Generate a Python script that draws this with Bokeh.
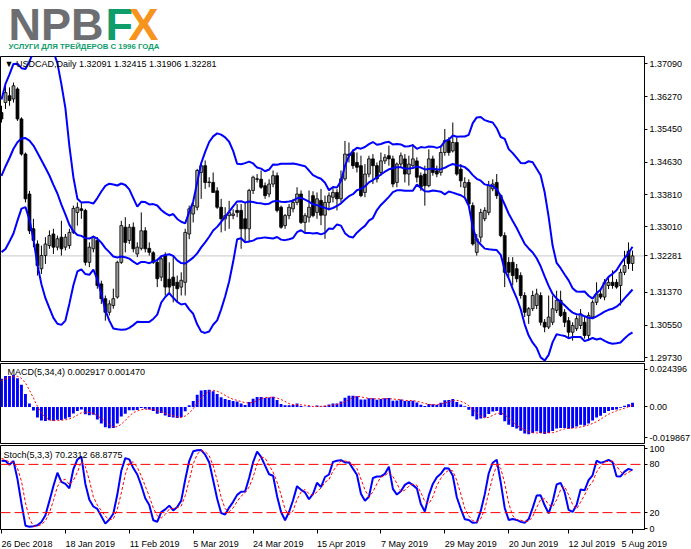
import numpy as np
import pandas as pd
from bokeh.plotting import figure
from bokeh.layouts import column
from bokeh.models import (Range1d, FixedTicker, Span, Label, ColumnDataSource,
                          PrintfTickFormatter, LinearAxis)
from bokeh.core.properties import value
from bokeh.embed import file_html
from bokeh.resources import INLINE

# ---------------- data ----------------
open_ = [1.3587, 1.3612, 1.3629, 1.3621, 1.3646, 1.3571, 1.3483, 1.3383, 1.3296, 1.3258,
         1.3196, 1.3229, 1.3254, 1.3283, 1.3250, 1.3275, 1.3250, 1.3254, 1.3287, 1.3337,
         1.3346, 1.3342, 1.3212, 1.3246, 1.3267, 1.3158, 1.3121, 1.3087, 1.3104, 1.3125,
         1.3212, 1.3300, 1.3267, 1.3300, 1.3233, 1.3247, 1.3291, 1.3247, 1.3236, 1.3212,
         1.3175, 1.3229, 1.3170, 1.3175, 1.3162, 1.3150, 1.3162, 1.3283, 1.3333, 1.3350,
         1.3437, 1.3454, 1.3413, 1.3412, 1.3391, 1.3350, 1.3321, 1.3329, 1.3329, 1.3342,
         1.3342, 1.3321, 1.3296, 1.3392, 1.3421, 1.3420, 1.3404, 1.3383, 1.3408, 1.3429,
         1.3350, 1.3304, 1.3329, 1.3346, 1.3362, 1.3383, 1.3312, 1.3325, 1.3379, 1.3337,
         1.3367, 1.3330, 1.3362, 1.3375, 1.3387, 1.3371, 1.3421, 1.3483, 1.3487, 1.3462,
         1.3454, 1.3387, 1.3433, 1.3471, 1.3454, 1.3437, 1.3466, 1.3479, 1.3471, 1.3412,
         1.3458, 1.3471, 1.3433, 1.3454, 1.3466, 1.3429, 1.3433, 1.3404, 1.3471, 1.3441,
         1.3437, 1.3487, 1.3517, 1.3491, 1.3512, 1.3445, 1.3400, 1.3412, 1.3354, 1.3237,
         1.3275, 1.3321, 1.3337, 1.3396, 1.3412, 1.3379, 1.3279, 1.3212, 1.3212, 1.3196,
         1.3179, 1.3129, 1.3079, 1.3096, 1.3104, 1.3129, 1.3062, 1.3050, 1.3062, 1.3092,
         1.3117, 1.3087, 1.3066, 1.3037, 1.3046, 1.3054, 1.3062, 1.3029, 1.3075, 1.3112,
         1.3133, 1.3125, 1.3154, 1.3162, 1.3162, 1.3154, 1.3187, 1.3240, 1.32091]
high_ = [1.3604, 1.3658, 1.3650, 1.3662, 1.3650, 1.3575, 1.3487, 1.3391, 1.3321, 1.3267,
         1.3254, 1.3275, 1.3292, 1.3296, 1.3279, 1.3316, 1.3283, 1.3296, 1.3354, 1.3362,
         1.3362, 1.3346, 1.3262, 1.3279, 1.3275, 1.3166, 1.3129, 1.3117, 1.3146, 1.3216,
         1.3316, 1.3325, 1.3308, 1.3312, 1.3262, 1.3337, 1.3300, 1.3262, 1.3240, 1.3221,
         1.3229, 1.3237, 1.3212, 1.3229, 1.3179, 1.3187, 1.3296, 1.3354, 1.3362, 1.3446,
         1.3462, 1.3467, 1.3425, 1.3437, 1.3400, 1.3371, 1.3350, 1.3366, 1.3345, 1.3358,
         1.3358, 1.3362, 1.3396, 1.3429, 1.3433, 1.3442, 1.3412, 1.3420, 1.3442, 1.3437,
         1.3354, 1.3333, 1.3358, 1.3371, 1.3400, 1.3392, 1.3335, 1.3392, 1.3390, 1.3387,
         1.3396, 1.3379, 1.3387, 1.3400, 1.3395, 1.3442, 1.3516, 1.3512, 1.3495, 1.3487,
         1.3479, 1.3458, 1.3479, 1.3483, 1.3462, 1.3487, 1.3483, 1.3504, 1.3479, 1.3462,
         1.3487, 1.3483, 1.3479, 1.3508, 1.3475, 1.3437, 1.3454, 1.3495, 1.3479, 1.3454,
         1.3504, 1.3546, 1.3525, 1.3562, 1.3525, 1.3458, 1.3425, 1.3420, 1.3362, 1.3283,
         1.3346, 1.3350, 1.3416, 1.3420, 1.3433, 1.3383, 1.3287, 1.3225, 1.3225, 1.3208,
         1.3187, 1.3137, 1.3100, 1.3141, 1.3146, 1.3137, 1.3070, 1.3129, 1.3129, 1.3141,
         1.3141, 1.3095, 1.3075, 1.3062, 1.3079, 1.3095, 1.3075, 1.3087, 1.3117, 1.3162,
         1.3145, 1.3170, 1.3175, 1.3192, 1.3170, 1.3196, 1.3241, 1.3262, 1.32415]
low_ = [1.3562, 1.3596, 1.3604, 1.3612, 1.3566, 1.3479, 1.3362, 1.3283, 1.3250, 1.3179,
        1.3183, 1.3208, 1.3246, 1.3233, 1.3242, 1.3229, 1.3242, 1.3246, 1.3283, 1.3304,
        1.3321, 1.3204, 1.3200, 1.3237, 1.3146, 1.3108, 1.3066, 1.3079, 1.3096, 1.3121,
        1.3208, 1.3237, 1.3258, 1.3237, 1.3225, 1.3242, 1.3237, 1.3229, 1.3208, 1.3150,
        1.3165, 1.3129, 1.3133, 1.3112, 1.3112, 1.3129, 1.3129, 1.3270, 1.3312, 1.3342,
        1.3371, 1.3396, 1.3400, 1.3387, 1.3346, 1.3287, 1.3291, 1.3296, 1.3320, 1.3325,
        1.3246, 1.3262, 1.3262, 1.3383, 1.3412, 1.3396, 1.3371, 1.3375, 1.3400, 1.3337,
        1.3296, 1.3296, 1.3320, 1.3337, 1.3355, 1.3308, 1.3287, 1.3312, 1.3325, 1.3321,
        1.3305, 1.3271, 1.3342, 1.3362, 1.3342, 1.3362, 1.3416, 1.3462, 1.3446, 1.3437,
        1.3375, 1.3375, 1.3425, 1.3408, 1.3412, 1.3429, 1.3458, 1.3454, 1.3400, 1.3400,
        1.3450, 1.3412, 1.3404, 1.3450, 1.3412, 1.3391, 1.3354, 1.3400, 1.3429, 1.3425,
        1.3429, 1.3479, 1.3479, 1.3487, 1.3429, 1.3400, 1.3375, 1.3350, 1.3254, 1.3229,
        1.3262, 1.3315, 1.3330, 1.3390, 1.3371, 1.3275, 1.3150, 1.3175, 1.3154, 1.3162,
        1.3121, 1.3075, 1.3058, 1.3090, 1.3095, 1.3054, 1.3037, 1.3045, 1.3055, 1.3085,
        1.3075, 1.3050, 1.3021, 1.3016, 1.3040, 1.3045, 1.3021, 1.3016, 1.3070, 1.3105,
        1.3120, 1.3117, 1.3145, 1.3146, 1.3146, 1.3104, 1.3180, 1.3195, 1.31906]
close_ = [1.3571, 1.3637, 1.3617, 1.3654, 1.3571, 1.3483, 1.3371, 1.3291, 1.3267, 1.3204,
          1.3229, 1.3258, 1.3279, 1.3250, 1.3271, 1.3246, 1.3275, 1.3287, 1.3347, 1.3350,
          1.3342, 1.3212, 1.3250, 1.3275, 1.3154, 1.3121, 1.3087, 1.3108, 1.3121, 1.3212,
          1.3304, 1.3262, 1.3300, 1.3246, 1.3250, 1.3291, 1.3246, 1.3237, 1.3212, 1.3171,
          1.3221, 1.3150, 1.3150, 1.3154, 1.3146, 1.3167, 1.3287, 1.3346, 1.3354, 1.3442,
          1.3454, 1.3412, 1.3412, 1.3387, 1.3350, 1.3321, 1.3329, 1.3337, 1.3333, 1.3337,
          1.3296, 1.3296, 1.3392, 1.3425, 1.3420, 1.3400, 1.3379, 1.3408, 1.3429, 1.3342,
          1.3300, 1.3329, 1.3350, 1.3362, 1.3383, 1.3312, 1.3329, 1.3350, 1.3329, 1.3371,
          1.3330, 1.3362, 1.3379, 1.3387, 1.3371, 1.3421, 1.3483, 1.3479, 1.3454, 1.3450,
          1.3379, 1.3433, 1.3471, 1.3454, 1.3421, 1.3466, 1.3475, 1.3471, 1.3408, 1.3458,
          1.3479, 1.3433, 1.3458, 1.3471, 1.3425, 1.3400, 1.3404, 1.3471, 1.3437, 1.3433,
          1.3487, 1.3517, 1.3487, 1.3512, 1.3433, 1.3416, 1.3412, 1.3358, 1.3258, 1.3271,
          1.3337, 1.3342, 1.3404, 1.3408, 1.3379, 1.3279, 1.3187, 1.3187, 1.3179, 1.3171,
          1.3129, 1.3087, 1.3096, 1.3129, 1.3133, 1.3062, 1.3050, 1.3075, 1.3096, 1.3117,
          1.3079, 1.3062, 1.3037, 1.3054, 1.3071, 1.3083, 1.3029, 1.3079, 1.3112, 1.3133,
          1.3125, 1.3162, 1.3162, 1.3154, 1.3150, 1.3187, 1.3204, 1.3209, 1.32281]

# closes before the first visible bar (needed by the indicators)
prior_close = [1.3120, 1.3150, 1.3160, 1.3150, 1.3100, 1.3110, 1.3130, 1.3120, 1.3140, 1.3180,
               1.3220, 1.3250, 1.3230, 1.3190, 1.3160, 1.3180, 1.3230, 1.3250, 1.3240, 1.3230,
               1.3260, 1.3280, 1.3260, 1.3290, 1.3270, 1.3280, 1.3300, 1.3310, 1.3300, 1.3290,
               1.3300, 1.3310, 1.3310, 1.3320, 1.3330, 1.3340, 1.3350, 1.3360, 1.3380, 1.3440,
               1.3460, 1.3490, 1.3520, 1.3550, 1.3580]
prior_high = [1.3375, 1.3400, 1.3455, 1.3480, 1.3510, 1.3540, 1.3570, 1.3605]
prior_low = [1.3330, 1.3350, 1.3380, 1.3430, 1.3455, 1.3480, 1.3515, 1.3540]

date_labels = ["26 Dec 2018", "18 Jan 2019", "11 Feb 2019", "5 Mar 2019", "24 Mar 2019",
               "15 Apr 2019", "7 May 2019", "29 May 2019", "20 Jun 2019", "12 Jul 2019", "5 Aug 2019"]
date_bars = [0, 16, 32, 48, 63, 79, 95, 111, 127, 142, 158]
price_ticks = [1.37090, 1.36270, 1.35450, 1.34630, 1.33810, 1.33010, 1.31370, 1.30550, 1.29730]
macd_ticks = [0.024396, 0.0, -0.019867]
macd_tick_labels = ["0.024396", "0.00", "-0.019867"]
stoch_ticks = [100, 80, 20, 0]
stoch_levels = [80, 20]
symbol_text = "USDCAD,Daily"
macd_text = "MACD(5,34,4) 0.002917 0.001470"
stoch_text = "Stoch(5,3,3) 70.2312 68.8775"
BB_PERIOD, BB_DEV = 14, 2

# ---------------- indicators ----------------
N = len(close_)
xs = list(range(N))
c_all = pd.Series(prior_close + close_, dtype=float)
mid = c_all.rolling(BB_PERIOD).mean()
sd = c_all.rolling(BB_PERIOD).std(ddof=0)
up = mid + BB_DEV * sd
dn = mid - BB_DEV * sd
macd = c_all.ewm(span=5, adjust=False).mean() - c_all.ewm(span=34, adjust=False).mean()
sig = macd.rolling(4).mean()

k_h = pd.Series(prior_high + high_, dtype=float)
k_l = pd.Series(prior_low + low_, dtype=float)
k_c = pd.Series(prior_close[-len(prior_high):] + close_, dtype=float)
ll = k_l.rolling(5).min()
hh = k_h.rolling(5).max()
st_k = 100 * (k_c - ll).rolling(3).sum() / (hh - ll).rolling(3).sum()
st_d = st_k.rolling(3).mean()


def tail(s):
    return s.iloc[-N:].to_numpy()


FONT = "Liberation Sans"
FS_PX = 9
FS = "%dpx" % FS_PX
PAGE_W = 691
FRAME_W = 644
RIGHT_W = PAGE_W - FRAME_W
X0, X1 = -0.25, 161.0
X_RANGE = Range1d(X0, X1)


def base_fig(h, yr, bottom=2):
    f = figure(frame_width=FRAME_W, frame_height=h, x_range=X_RANGE, y_range=yr,
               output_backend="svg", toolbar_location=None,
               x_axis_location=None, y_axis_location="right",
               min_border_left=0, min_border_right=RIGHT_W, min_border_top=0,
               min_border_bottom=bottom, outline_line_color="black", outline_line_width=1,
               background_fill_color="white", border_fill_color="white")
    f.grid.visible = False
    ax = f.yaxis[0]
    ax.axis_line_color = "black"
    ax.major_tick_in = 0
    ax.major_tick_out = 3
    ax.minor_tick_line_color = None
    ax.major_label_standoff = 2
    ax.major_label_text_font = FONT
    ax.major_label_text_font_size = FS
    ax.major_label_text_color = "black"
    return f


# ---------------- logo ----------------
pl = figure(frame_width=FRAME_W, frame_height=56, x_range=Range1d(0, FRAME_W), y_range=Range1d(56, 0),
            output_backend="svg", toolbar_location=None, min_border_left=0,
            min_border_right=RIGHT_W, min_border_top=0, min_border_bottom=0,
            x_axis_location=None, y_axis_location=None, outline_line_color=None)
pl.grid.visible = False
for txt, xx, col in (("NPB", 8, "#6d6e71"), ("F", 105, "#0f9d6b"), ("X", 128, "#f7941d")):
    pl.text(x=[xx], y=[23.5], text=[txt], text_font=value(FONT), text_font_style="bold",
            text_font_size="45px", text_color=col, text_baseline="middle")
pl.text(x=[8], y=[46], text=["УСЛУГИ ДЛЯ ТРЕЙДЕРОВ С 1996 ГОДА"], text_font=value(FONT),
        text_font_style="bold", text_font_size="7.8px", text_color="#0f9d6b",
        text_baseline="middle")

# ---------------- main price panel ----------------
p = base_fig(305, Range1d(1.29638, 1.37273))
p.yaxis.ticker = FixedTicker(ticks=price_ticks + [close_[-1]])
p.yaxis.formatter = PrintfTickFormatter(format="%.5f")
p.add_layout(Span(location=close_[-1], dimension="width", line_color="#c8c8c8",
                  line_width=1, level="underlay"))

o = np.array(open_)
c = np.array(close_)
src = ColumnDataSource(dict(x=xs, h=high_, l=low_, top=np.maximum(o, c), bottom=np.minimum(o, c),
                            fill=["#9a9a9a" if cc >= oo else "black" for oo, cc in zip(o, c)]))
p.segment(x0="x", y0="h", x1="x", y1="l", line_color="black", line_width=1, source=src)
p.vbar(x="x", width=0.72, top="top", bottom="bottom", fill_color="fill",
       line_color="black", line_width=0.8, source=src)

for band in (up, mid, dn):
    p.line(xs, tail(band), line_color="#0000ff", line_width=2)

title = "▼  %s  %.5f %.5f %.5f %.5f" % (symbol_text, open_[-1], high_[-1], low_[-1], close_[-1])
p.add_layout(Label(x=X0, y=1.37273, x_offset=4, y_offset=-2, text=title,
                   text_baseline="top", text_font=FONT, text_font_size=FS, text_color="black"))

# ---------------- MACD ----------------
pm = base_fig(80, Range1d(-0.02377, 0.0283))
pm.yaxis.ticker = FixedTicker(ticks=macd_ticks)
pm.yaxis.major_label_overrides = dict(zip(macd_ticks, macd_tick_labels))
msrc = ColumnDataSource(dict(x=xs, m=tail(macd), s=tail(sig)))
pm.vbar(x="x", top="m", bottom=0, width=0.72, fill_color="#0000ff", line_color=None, source=msrc)
pm.line("x", "s", line_color="red", line_dash="2 2", line_width=1, source=msrc)
pm.add_layout(Label(x=X0, y=0.0283, x_offset=7, y_offset=-3, text=macd_text,
                    text_baseline="top", text_font=FONT, text_font_size=FS, text_color="black"))

# ---------------- Stochastic (with the date scale below) ----------------
ps = base_fig(84, Range1d(-1, 103.5), bottom=20)
ps.yaxis.ticker = FixedTicker(ticks=stoch_ticks)
for lv in stoch_levels:
    ps.add_layout(Span(location=lv, dimension="width", line_color="red",
                       line_dash="10 4", line_width=1))
ssrc = ColumnDataSource(dict(x=xs, k=tail(st_k), d=tail(st_d)))
ps.line("x", "k", line_color="#0000ff", line_width=2, source=ssrc)
ps.line("x", "d", line_color="red", line_dash="3 2", line_width=1, source=ssrc)
ps.add_layout(Label(x=X0, y=103.5, x_offset=3, y_offset=-4, text=stoch_text,
                    text_baseline="top", text_font=FONT, text_font_size=FS, text_color="black"))

# date labels: MetaTrader writes them starting at the tick, so centre each label
# half its width to the right of its bar (tick marks stay on the bars as minor ticks)
CHAR_W = {" ": 278, "D": 722, "e": 556, "c": 500, "J": 500, "a": 556, "n": 556, "F": 611,
          "b": 556, "M": 833, "r": 333, "A": 667, "p": 556, "y": 500, "u": 556, "g": 556,
          "l": 222}


def text_px(s):
    return sum(CHAR_W.get(ch, 556) for ch in s) * FS_PX / 1000.0


px_per_bar = FRAME_W / (X1 - X0)
label_pos = [round(min(b + text_px(t) / 2 / px_per_bar, X1 - 0.01), 3)
             for b, t in zip(date_bars, date_labels)]
ps.add_layout(LinearAxis(
    ticker=FixedTicker(ticks=label_pos, minor_ticks=date_bars),
    major_label_overrides=dict(zip(label_pos, date_labels)),
    major_tick_line_color=None, major_tick_in=0, major_tick_out=0,
    minor_tick_line_color="black", minor_tick_in=0, minor_tick_out=4,
    axis_line_color="black", major_label_standoff=5,
    major_label_text_font=FONT, major_label_text_font_size=FS,
    major_label_text_color="black"), "below")

layout = column(pl, p, pm, ps, spacing=0)
open("out.html", "w").write(file_html(layout, INLINE))
